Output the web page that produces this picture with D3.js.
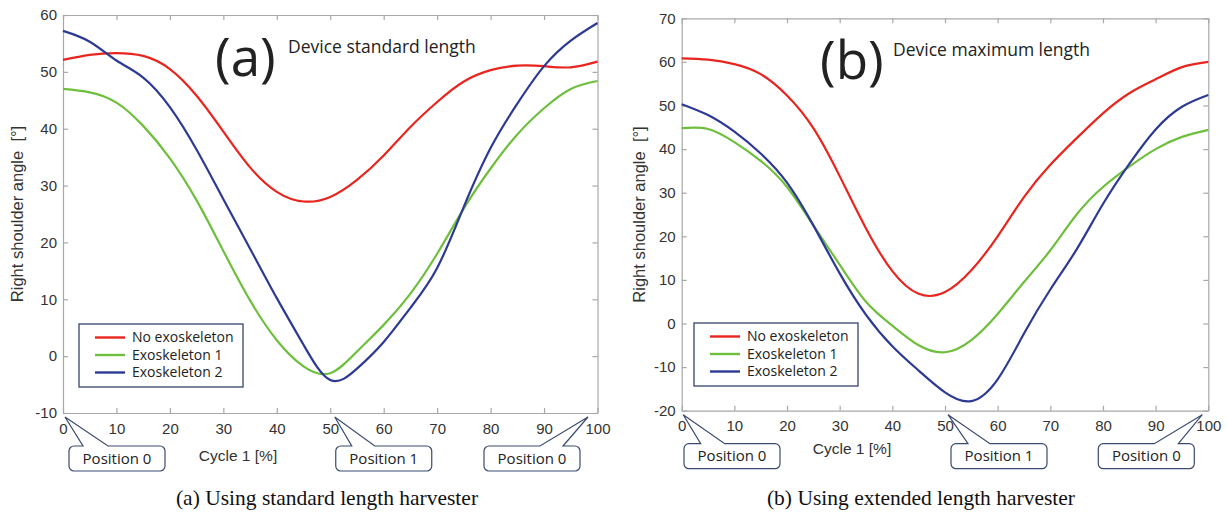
<!DOCTYPE html>
<html>
<head>
<meta charset="utf-8">
<script src="https://cdn.jsdelivr.net/npm/d3@7/dist/d3.min.js"></script>
<style>
  body { margin: 0; background: #fff; }
  svg { display: block; }
</style>
</head>
<body>
<script>
// cycle position [%]
const cycle = [0, 5, 10, 15, 20, 25, 30, 35, 40, 45, 50, 55, 60, 65, 70, 75, 80, 85, 90, 95, 100];

// (a) standard length harvester, right shoulder angle [deg]
const aNoExo = [52.1, 53.0, 53.3, 52.8, 50.5, 45.8, 39.5, 33.2, 28.9, 27.2, 28.0, 31.0, 35.3, 40.3, 44.7, 48.3, 50.3, 51.1, 51.0, 50.8, 51.8];
const aExo1  = [47.0, 46.4, 44.6, 40.5, 34.8, 27.4, 18.5, 9.8, 2.8, -1.8, -3.0, 0.8, 5.5, 11.0, 18.0, 26.0, 33.0, 39.0, 43.6, 47.0, 48.4];
const aExo2  = [57.2, 55.3, 52.0, 49.0, 43.8, 36.3, 27.6, 18.9, 10.2, 2.0, -4.2, -2.2, 2.5, 8.5, 15.5, 26.3, 36.6, 44.4, 51.0, 55.5, 58.6];

// (b) extended length harvester
const bNoExo = [60.8, 60.5, 59.5, 57.2, 52.3, 44.8, 33.8, 21.8, 12.0, 6.8, 7.2, 12.2, 20.0, 29.0, 36.4, 42.5, 48.2, 52.8, 56.0, 58.8, 60.0];
const bExo1  = [44.8, 44.6, 41.6, 37.3, 31.3, 22.5, 13.5, 5.0, -0.5, -5.0, -6.6, -3.8, 2.2, 9.5, 16.8, 25.0, 31.3, 36.0, 40.0, 42.8, 44.4];
const bExo2  = [50.3, 47.8, 44.0, 39.0, 32.3, 22.5, 11.5, 2.0, -5.2, -10.8, -15.8, -17.8, -12.8, -2.3, 7.8, 17.0, 27.4, 36.6, 44.5, 49.7, 52.4];

const seriesNames = ['No exoskeleton', 'Exoskeleton 1', 'Exoskeleton 2'];
const seriesColors = ['#e8251e', '#6fbf3e', '#2d3a94'];
const xTicks = [0, 10, 20, 30, 40, 50, 60, 70, 80, 90, 100];
const aYTicks = [-10, 0, 10, 20, 30, 40, 50, 60];
const bYTicks = [-20, -10, 0, 10, 20, 30, 40, 50, 60, 70];
const callouts = ['Position 0', 'Position 1', 'Position 0'];
const calloutAt = [0, 50, 100];

const width = 1227;
const height = 513;

const svg = d3.select('body')
    .append('svg')
    .attr('width', width)
    .attr('height', height);

const panels = [
    {
        series: [aNoExo, aExo1, aExo2], yDomain: [-10, 60], yTicks: aYTicks,
        left: 63, right: 597.5, top: 15, bottom: 413,
        tag: '(a)', tagX: 215, note: 'Device standard length', noteX: 288,
        yLabelX: 23, xLabelX: 238, xLabelY: 461,
        legend: { x: 79, y: 324 },
        boxes: [
            { box: 6, tip: 2, b1: 20, b2: 45 },
            { box: 5.5, tip: 4.5, b1: 21.5, b2: 44.5 },
            { box: -113.5, tip: -9.5, b1: -57.5, b2: -34.5 }
        ],
        caption: '(a) Using standard length harvester', captionX: 327
    },
    {
        series: [bNoExo, bExo1, bExo2], yDomain: [-20, 70], yTicks: bYTicks,
        left: 681.7, right: 1208.3, top: 18.3, bottom: 410.7,
        tag: '(b)', tagX: 820, note: 'Device maximum length', noteX: 893,
        yLabelX: 645, xLabelX: 852, xLabelY: 454,
        legend: { x: 694, y: 323 },
        boxes: [
            { box: 2.3, tip: 1.5, b1: 19, b2: 43 },
            { box: 6, tip: 3, b1: 23, b2: 45 },
            { box: -110, tip: -6, b1: -54, b2: -30 }
        ],
        caption: '(b) Using extended length harvester', captionX: 921
    }
];

panels.forEach((p) => {
    const x = d3.scaleLinear().domain([0, 100]).range([p.left, p.right]);
    const y = d3.scaleLinear().domain(p.yDomain).range([p.bottom, p.top]);
    const g = svg.append('g');

    // axes, MATLAB style: box with inward ticks
    const axisFont = '"Liberation Sans", Arial, sans-serif';
    g.append('g')
        .attr('transform', `translate(0,${p.bottom})`)
        .call(d3.axisBottom(x).tickValues(xTicks).tickSizeInner(-5).tickSizeOuter(0).tickPadding(10));
    g.append('g')
        .attr('transform', `translate(${p.left},0)`)
        .call(d3.axisLeft(y).tickValues(p.yTicks).tickSizeInner(-5).tickSizeOuter(0).tickPadding(6)
            .tickFormat((d) => String(d)));
    g.append('g')
        .attr('transform', `translate(0,${p.top})`)
        .call(d3.axisTop(x).tickValues(xTicks).tickSizeInner(-5).tickSizeOuter(0).tickFormat(''));
    g.append('g')
        .attr('transform', `translate(${p.right},0)`)
        .call(d3.axisRight(y).tickValues(p.yTicks).tickSizeInner(-5).tickSizeOuter(0).tickFormat(''));

    g.selectAll('.domain').attr('stroke', '#a8a8a8').attr('stroke-width', 1.2);
    g.selectAll('.tick line').attr('stroke', '#a8a8a8').attr('stroke-width', 1.2);
    g.selectAll('.tick text')
        .attr('fill', '#333')
        .style('font-family', axisFont)
        .style('font-size', '15px');

    // curves
    const line = d3.line()
        .x((d, i) => x(cycle[i]))
        .y((d) => y(d))
        .curve(d3.curveNatural);

    g.selectAll('path.series')
        .data(p.series)
        .enter()
        .append('path')
        .attr('class', 'series')
        .attr('fill', 'none')
        .attr('stroke', (d, i) => seriesColors[i])
        .attr('stroke-width', 2.2)
        .attr('d', line);

    // axis titles
    g.append('text')
        .attr('transform', `translate(${p.yLabelX},${(p.top + p.bottom) / 2}) rotate(-90)`)
        .attr('text-anchor', 'middle')
        .attr('fill', '#333')
        .style('font-family', axisFont)
        .style('font-size', '16.5px')
        .style('white-space', 'pre')
        .text('Right shoulder angle  [°]');

    g.append('text')
        .attr('x', p.xLabelX)
        .attr('y', p.xLabelY)
        .attr('text-anchor', 'middle')
        .attr('fill', '#333')
        .style('font-family', axisFont)
        .style('font-size', '15.5px')
        .text('Cycle 1 [%]');

    // panel tag and note
    g.append('text')
        .attr('x', p.tagX)
        .attr('y', p.top + 61)
        .attr('fill', '#222')
        .style('font-family', '"Open Sans", sans-serif')
        .style('font-size', '53px')
        .text(p.tag);

    g.append('text')
        .attr('x', p.noteX)
        .attr('y', p.top + 38)
        .attr('fill', '#222')
        .style('font-family', '"Open Sans", sans-serif')
        .style('font-size', '17.5px')
        .text(p.note);

    // legend
    const lg = g.append('g').attr('transform', `translate(${p.legend.x},${p.legend.y})`);
    lg.append('rect')
        .attr('width', 164)
        .attr('height', 63)
        .attr('fill', '#fff')
        .attr('stroke', '#35446e')
        .attr('stroke-width', 1.3);
    const rows = lg.selectAll('g.row')
        .data(seriesNames)
        .enter()
        .append('g')
        .attr('class', 'row')
        .attr('transform', (d, i) => `translate(0,${13.5 + i * 17.5})`);
    rows.append('line')
        .attr('x1', 16).attr('x2', 46)
        .attr('stroke', (d, i) => seriesColors[i])
        .attr('stroke-width', 2.4);
    rows.append('text')
        .attr('x', 53)
        .attr('dy', '0.35em')
        .attr('fill', '#222')
        .style('font-family', '"Open Sans", sans-serif')
        .style('font-size', '14px')
        .text((d) => d);

    // position callouts
    callouts.forEach((label, k) => {
        const c = p.boxes[k];
        const x0 = x(calloutAt[k]);
        const bx = x0 + c.box;
        const by = p.bottom + 33;
        const bw = 96;
        const bh = 25;
        const r = 5;
        const tipX = x0 + c.tip;
        const tipY = p.bottom + 4;
        const path = d3.path();
        path.moveTo(bx + r, by);
        path.lineTo(x0 + c.b1, by);
        path.lineTo(tipX, tipY);
        path.lineTo(x0 + c.b2, by);
        path.lineTo(bx + bw - r, by);
        path.arcTo(bx + bw, by, bx + bw, by + r, r);
        path.lineTo(bx + bw, by + bh - r);
        path.arcTo(bx + bw, by + bh, bx + bw - r, by + bh, r);
        path.lineTo(bx + r, by + bh);
        path.arcTo(bx, by + bh, bx, by + bh - r, r);
        path.lineTo(bx, by + r);
        path.arcTo(bx, by, bx + r, by, r);
        path.closePath();
        g.append('path')
            .attr('d', path.toString())
            .attr('fill', '#fff')
            .attr('stroke', '#3a4a70')
            .attr('stroke-width', 1.2);
        g.append('text')
            .attr('x', bx + bw / 2)
            .attr('y', by + bh / 2)
            .attr('dy', '0.35em')
            .attr('text-anchor', 'middle')
            .attr('fill', '#222')
            .style('font-family', '"Open Sans", sans-serif')
            .style('font-size', '15px')
            .text(label);
    });

    // caption
    svg.append('text')
        .attr('x', p.captionX)
        .attr('y', 505)
        .attr('text-anchor', 'middle')
        .attr('fill', '#111')
        .style('font-family', '"Liberation Serif", "Times New Roman", serif')
        .style('font-size', '21.5px')
        .text(p.caption);
});
</script>
</body>
</html>
